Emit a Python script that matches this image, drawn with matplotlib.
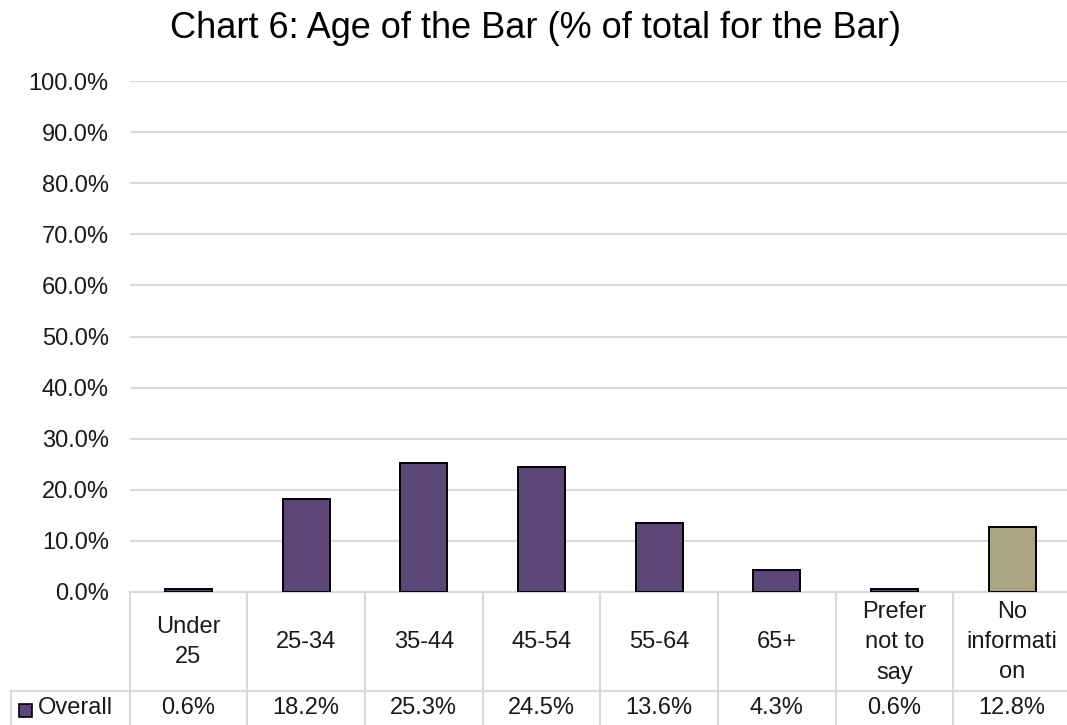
import numpy as np
import matplotlib.pyplot as plt
import matplotlib.transforms as mtransforms

plt.rcParams['font.family'] = ['Liberation Sans', 'DejaVu Sans']

categories = ["Under\n25", "25-34", "35-44", "45-54", "55-64", "65+",
              "Prefer\nnot to\nsay", "No\ninformati\non"]
values = [0.6, 18.2, 25.3, 24.5, 13.6, 4.3, 0.6, 12.8]
value_labels = ["0.6%", "18.2%", "25.3%", "24.5%", "13.6%", "4.3%", "0.6%", "12.8%"]
series_name = "Overall"
yticks = np.arange(0, 101, 10)

purple = "#5c4578"
tan = "#aba483"
colors = [purple] * 7 + [tan]
grid_c = "#d9d9d9"
txt_c = "#1a1a1a"
fs = 17

W, H = 1067, 725
fig = plt.figure(figsize=(W / 100, H / 100), dpi=100)

# plot area in pixels
x0, x1 = 129.6, 1071.0
y_top, y_zero = 81.0, 592.0
ax = fig.add_axes([x0 / W, (H - y_zero) / H, (x1 - x0) / W, (y_zero - y_top) / H])

x = np.arange(len(categories))
ax.bar(x, values, width=0.4, color=colors, edgecolor="black", linewidth=1.4, zorder=3)

ax.set_xlim(-0.5, len(categories) - 0.5)
ax.set_ylim(0, 100)
ax.set_yticks(yticks)
ax.set_yticklabels([f"{v:.1f}%" for v in yticks], fontsize=fs, color=txt_c)
ax.tick_params(axis="y", length=0, pad=15)
ax.tick_params(axis="x", length=0, labelbottom=False)
ax.grid(axis="y", color=grid_c, linewidth=1.5, zorder=0)
for s in ax.spines.values():
    s.set_visible(False)

fig.text(536 / W, 1 - 29 / H, "Chart 6: Age of the Bar (% of total for the Bar)",
         fontsize=26, ha="center", va="center", color="black")

# data table below the plot (x in data units, y in pixels from top)
pix = mtransforms.Affine2D().scale(1, -1).translate(0, H)
trans = mtransforms.blended_transform_factory(ax.transData, pix)
row_mid = 691.0
bottom = 740.0

ax.plot([-0.5, len(categories) - 0.5], [y_zero, y_zero], transform=trans,
        color=grid_c, linewidth=1.5, clip_on=False)
ax.plot([-0.5, len(categories) - 0.5], [row_mid, row_mid], transform=trans,
        color=grid_c, linewidth=1.5, clip_on=False)
for b in np.arange(-0.5, len(categories), 1.0):
    ax.plot([b, b], [y_zero, bottom], transform=trans, color=grid_c,
            linewidth=1.5, clip_on=False)

# legend cell to the left
fig.add_artist(plt.Line2D([11 / W, x0 / W], [1 - row_mid / H, 1 - row_mid / H],
                          color=grid_c, linewidth=1.5))
fig.add_artist(plt.Line2D([11 / W, 11 / W], [1 - row_mid / H, 0],
                          color=grid_c, linewidth=1.5))
fig.add_artist(plt.Rectangle((19 / W, 1 - 717 / H), 13 / W, 13 / H,
                             facecolor=purple, edgecolor="black", linewidth=1.2))
fig.text(38 / W, 1 - 708 / H, series_name, fontsize=fs, ha="left", va="center",
         color=txt_c)

for i, (c, lab) in enumerate(zip(categories, value_labels)):
    ax.text(i, 642, c, transform=trans, ha="center", va="center", fontsize=fs,
            color=txt_c, linespacing=1.5, clip_on=False)
    ax.text(i, 708, lab, transform=trans, ha="center", va="center", fontsize=fs,
            color=txt_c, clip_on=False)

fig.savefig("out.png", dpi=100)
